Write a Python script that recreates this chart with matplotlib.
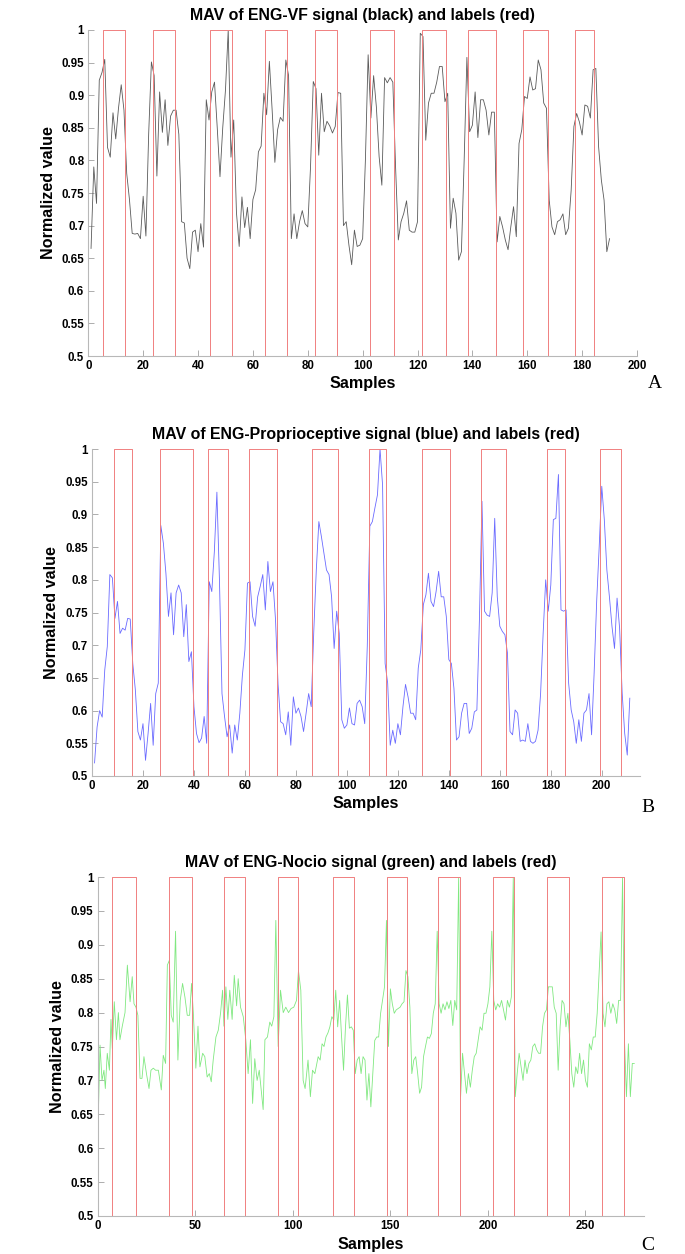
import numpy as np
import matplotlib
matplotlib.use('Agg')
import matplotlib.pyplot as plt
from matplotlib.ticker import FuncFormatter

# ---------------- DATA ----------------
# Panel A: MAV of ENG-VF signal (samples 1..190)
vf_signal = [
    0.665, 0.79, 0.734, 0.923, 0.935, 0.955, 0.82, 0.805, 0.873, 0.833,
    0.88, 0.916, 0.877, 0.78, 0.74, 0.688, 0.687, 0.688, 0.68, 0.745,
    0.684, 0.84, 0.951, 0.93, 0.776, 0.905, 0.843, 0.893, 0.823, 0.868,
    0.877, 0.877, 0.84, 0.706, 0.704, 0.65, 0.634, 0.69, 0.693, 0.66,
    0.703, 0.667, 0.893, 0.862, 0.905, 0.92, 0.85, 0.775, 0.85, 0.908,
    1.0, 0.805, 0.862, 0.72, 0.668, 0.744, 0.697, 0.728, 0.68, 0.74,
    0.755, 0.813, 0.822, 0.903, 0.87, 0.952, 0.878, 0.797, 0.847, 0.866,
    0.86, 0.954, 0.93, 0.68, 0.718, 0.68, 0.706, 0.723, 0.703, 0.698,
    0.79, 0.921, 0.91, 0.808, 0.903, 0.844, 0.86, 0.853, 0.842, 0.852,
    0.904, 0.903, 0.70, 0.706, 0.67, 0.64, 0.693, 0.668, 0.67, 0.68,
    0.80, 0.962, 0.865, 0.93, 0.882, 0.806, 0.762, 0.927, 0.919, 0.927,
    0.92, 0.79, 0.678, 0.706, 0.719, 0.738, 0.693, 0.69, 0.69, 0.706,
    0.995, 0.99, 0.831, 0.888, 0.903, 0.903, 0.92, 0.944, 0.944, 0.89,
    0.903, 0.696, 0.742, 0.719, 0.647, 0.66, 0.80, 0.958, 0.844, 0.854,
    0.905, 0.835, 0.893, 0.893, 0.877, 0.839, 0.874, 0.874, 0.675, 0.714,
    0.698, 0.678, 0.663, 0.698, 0.729, 0.683, 0.826, 0.847, 0.898, 0.895,
    0.928, 0.908, 0.91, 0.954, 0.939, 0.888, 0.88, 0.739, 0.698, 0.686,
    0.706, 0.709, 0.718, 0.686, 0.696, 0.754, 0.852, 0.872, 0.859, 0.839,
    0.885, 0.883, 0.865, 0.939, 0.941, 0.821, 0.77, 0.739, 0.66, 0.68,
]
vf_label_start = [6, 24, 45, 65, 83, 103, 122, 139, 159, 178]
vf_label_end = [13, 31, 52, 72, 90, 111, 130, 148, 167, 184]

# Panel B: MAV of ENG-Proprioceptive signal (samples 1..211)
prop_signal = [
    0.52, 0.575, 0.60, 0.59, 0.662, 0.698, 0.808, 0.803, 0.741, 0.767,
    0.718, 0.726, 0.723, 0.741, 0.74, 0.672, 0.632, 0.568, 0.555, 0.58,
    0.524, 0.565, 0.611, 0.547, 0.626, 0.642, 0.883, 0.856, 0.81, 0.744,
    0.78, 0.716, 0.78, 0.792, 0.78, 0.713, 0.762, 0.675, 0.69, 0.606,
    0.565, 0.551, 0.558, 0.591, 0.55, 0.797, 0.782, 0.843, 0.934, 0.80,
    0.626, 0.591, 0.56, 0.578, 0.535, 0.578, 0.555, 0.596, 0.654, 0.693,
    0.795, 0.797, 0.744, 0.729, 0.774, 0.79, 0.808, 0.754, 0.828, 0.782,
    0.797, 0.739, 0.64, 0.583, 0.58, 0.563, 0.598, 0.547, 0.621, 0.596,
    0.604, 0.591, 0.568, 0.596, 0.626, 0.606, 0.72, 0.815, 0.889, 0.866,
    0.841, 0.815, 0.808, 0.774, 0.695, 0.752, 0.718, 0.586, 0.573, 0.578,
    0.604, 0.58, 0.578, 0.611, 0.616, 0.606, 0.58, 0.698, 0.882, 0.889,
    0.91, 0.93, 1.0, 0.945, 0.672, 0.642, 0.547, 0.57, 0.55, 0.58,
    0.563, 0.606, 0.64, 0.621, 0.596, 0.596, 0.586, 0.665, 0.693, 0.762,
    0.777, 0.81, 0.767, 0.759, 0.782, 0.813, 0.774, 0.774, 0.744, 0.678,
    0.672, 0.634, 0.555, 0.56, 0.596, 0.611, 0.611, 0.565, 0.573, 0.598,
    0.601, 0.739, 0.92, 0.752, 0.746, 0.744, 0.78, 0.894, 0.774, 0.729,
    0.721, 0.716, 0.688, 0.568, 0.563, 0.601, 0.596, 0.553, 0.555, 0.553,
    0.58, 0.553, 0.55, 0.553, 0.57, 0.626, 0.718, 0.80, 0.752, 0.792,
    0.892, 0.894, 0.961, 0.754, 0.752, 0.754, 0.642, 0.601, 0.583, 0.55,
    0.586, 0.553, 0.596, 0.601, 0.626, 0.563, 0.657, 0.767, 0.851, 0.943,
    0.892, 0.815, 0.774, 0.729, 0.695, 0.772, 0.726, 0.627, 0.565, 0.532,
    0.619,
]
prop_label_start = [9, 27, 46, 62, 87, 109, 130, 153, 179, 200]
prop_label_end = [15, 39, 53, 72, 96, 115, 140, 162, 185, 207]

# Panel C: MAV of ENG-Nocio signal (sample positions and values)
noc_x = [
    0.3, 1.2, 2.2, 3.2, 3.9, 4.9, 6.0, 6.8, 7.5, 8.5, 9.6, 10.6, 11.4, 12.6,
    14.0, 15.2, 16.6, 17.7, 18.6, 19.6, 20.6, 21.7, 22.7, 23.7, 25.1, 26.3,
    27.3, 28.5, 29.7, 31.1, 32.6, 33.6, 34.8, 35.7, 36.7, 37.7, 38.7, 39.9,
    41.1, 42.3, 43.5, 44.7, 45.9, 47.1, 48.1, 49.0, 50.3, 51.4, 52.4, 53.8,
    54.9, 56.1, 57.2, 58.2, 59.2, 60.6, 61.8, 63.0, 64.0, 64.7, 65.7, 66.7,
    67.7, 68.9, 70.0, 71.2, 72.0, 73.2, 74.6, 75.9, 77.1, 78.3, 79.4, 80.5,
    81.7, 82.8, 84.0, 84.8, 85.7, 87.0, 88.2, 89.2, 90.3, 91.3, 92.5, 93.7,
    95.1, 96.4, 97.8, 99.1, 100.5, 101.9, 102.9, 104.1, 105.3, 106.3, 107.8,
    109.0, 110.1, 111.3, 113.0,
] + list(range(114, 276))
noc_signal = [
    0.646, 0.752, 0.70, 0.715, 0.688, 0.74, 0.715, 0.79, 0.747, 0.816, 0.76,
    0.80, 0.76, 0.78, 0.80, 0.87, 0.816, 0.853, 0.813, 0.808, 0.796, 0.703,
    0.703, 0.735, 0.708, 0.688, 0.715, 0.718, 0.715, 0.715, 0.686, 0.737,
    0.725, 0.87, 0.877, 0.796, 0.786, 0.92, 0.73, 0.818, 0.843, 0.823, 0.796,
    0.796, 0.843, 0.80, 0.718, 0.78, 0.72, 0.74, 0.735, 0.705, 0.71, 0.698,
    0.73, 0.764, 0.774, 0.80, 0.833, 0.78, 0.838, 0.79, 0.833, 0.79, 0.855,
    0.81, 0.85, 0.808, 0.794, 0.76, 0.71, 0.76, 0.666, 0.732, 0.70, 0.715,
    0.68, 0.657, 0.76, 0.764, 0.786, 0.78, 0.794, 0.936, 0.75, 0.833, 0.80,
    0.808, 0.80, 0.806, 0.808, 0.818, 0.862, 0.833, 0.70, 0.688, 0.73, 0.676,
    0.715, 0.71, 0.735,
    # samples 114..275
    0.73, 0.754, 0.75, 0.764, 0.77, 0.779, 0.794, 0.789, 0.833, 0.779,
    0.818, 0.764, 0.715, 0.779, 0.826, 0.777, 0.779, 0.774, 0.71, 0.73,
    0.735, 0.71, 0.735, 0.73, 0.671, 0.71, 0.661, 0.71, 0.759, 0.764,
    0.764, 0.799, 0.818, 0.838, 0.936, 0.75, 0.835, 0.813, 0.799, 0.804,
    0.806, 0.808, 0.813, 0.816, 0.862, 0.853, 0.808, 0.71, 0.73, 0.735,
    0.71, 0.681, 0.69, 0.735, 0.75, 0.764, 0.762, 0.769, 0.799, 0.813,
    0.92, 0.813, 0.799, 0.813, 0.804, 0.816, 0.806, 0.818, 0.781, 0.818,
    0.804, 1.0, 0.676, 0.74, 0.71, 0.681, 0.71, 0.69, 0.715, 0.735,
    0.74, 0.759, 0.779, 0.774, 0.799, 0.799, 0.813, 0.838, 0.92, 0.818,
    0.804, 0.813, 0.808, 0.818, 0.804, 0.789, 0.818, 0.808, 0.823, 1.0,
    0.676, 0.71, 0.74, 0.72, 0.70, 0.73, 0.71, 0.725, 0.73, 0.75,
    0.754, 0.745, 0.74, 0.74, 0.779, 0.799, 0.804, 0.838, 0.838, 0.838,
    0.808, 0.799, 0.715, 0.779, 0.818, 0.813, 0.779, 0.799, 0.759, 0.71,
    0.69, 0.72, 0.71, 0.74, 0.71, 0.73, 0.70, 0.69, 0.754, 0.745,
    0.764, 0.764, 0.799, 0.858, 0.919, 0.799, 0.779, 0.813, 0.816, 0.799,
    0.813, 0.804, 0.784, 0.818, 0.818, 1.0, 0.759, 0.676, 0.754, 0.676,
    0.725, 0.725,
]
noc_label_start = [8, 37, 65, 93, 121, 149, 175, 203, 231, 259]
noc_label_end = [19, 48, 75, 102, 131, 158, 185, 213, 241, 269]

titles = ['MAV of ENG-VF signal (black) and labels (red)',
          'MAV of ENG-Proprioceptive signal (blue) and labels (red)',
          'MAV of ENG-Nocio signal (green) and labels (red)']
panel_letters = ['A', 'B', 'C']
y_ticks = [0.5, 0.55, 0.6, 0.65, 0.7, 0.75, 0.8, 0.85, 0.9, 0.95, 1.0]


def build_labels(n, starts, ends, low=0.5, high=1.0):
    lab = np.full(n, low)
    for s, e in zip(starts, ends):
        lab[s - 1:e] = high
    return lab


# ---------------- FIGURE ----------------
W, H = 685, 1254
fig = plt.figure(figsize=(W / 100, H / 100), dpi=100)
fig.patch.set_facecolor('white')

sans = 'Liberation Sans'
serif = 'Liberation Serif'

panels = [
    dict(x=np.arange(1, len(vf_signal) + 1), y=vf_signal, color='#5a5a5a',
         ls=vf_label_start, le=vf_label_end, xlim=(0, 200), xt=np.arange(0, 201, 20),
         box=(88.3, 30, 637, 356), letter_xy=(655, 383)),
    dict(x=np.arange(1, len(prop_signal) + 1), y=prop_signal, color='#6a6aff',
         ls=prop_label_start, le=prop_label_end, xlim=(0, 215), xt=np.arange(0, 201, 20),
         box=(92, 449, 640, 776), letter_xy=(648, 808)),
    dict(x=np.array(noc_x, dtype=float), y=noc_signal, color='#80e880',
         ls=noc_label_start, le=noc_label_end, xlim=(0, 280), xt=np.arange(0, 251, 50),
         box=(97.7, 877, 644, 1216), letter_xy=(648, 1245)),
]

for i, p in enumerate(panels):
    l, t, r, b = p['box']
    ax = fig.add_axes([l / W, 1 - b / H, (r - l) / W, (b - t) / H])
    ax.plot(p['x'], p['y'], color=p['color'], lw=0.6)
    n_lab = int(round(max(p['x'])))
    lab = build_labels(n_lab, p['ls'], p['le'])
    ax.plot(np.arange(1, n_lab + 1), lab, color='#f08080', lw=0.7,
            drawstyle='steps-mid', snap=True)
    ax.set_xlim(*p['xlim'])
    ax.set_ylim(0.5, 1.0)
    ax.set_xticks(p['xt'])
    ax.set_yticks(y_ticks)
    ax.yaxis.set_major_formatter(FuncFormatter(lambda v, pos: '%g' % round(v, 2)))
    for s in ['top', 'right']:
        ax.spines[s].set_visible(False)
    for s in ['left', 'bottom']:
        ax.spines[s].set_color('#b8b8b8')
        ax.spines[s].set_linewidth(0.8)
    ax.tick_params(direction='in', length=4, width=0.6, color='#a0a0a0',
                   labelsize=8.3, pad=3)
    for lbl in ax.get_xticklabels() + ax.get_yticklabels():
        lbl.set_fontfamily(sans)
        lbl.set_fontweight('bold')
    ax.set_title(titles[i], fontsize=11.4, fontweight='bold', family=sans, pad=7)
    ax.set_xlabel('Samples', fontsize=11.6, fontweight='bold', family=sans)
    ax.set_ylabel('Normalized value', fontsize=11.6, fontweight='bold', family=sans)
    ax.xaxis.set_label_coords(0.5, -0.085)
    ax.yaxis.set_label_coords(-0.073, 0.5)
    ax.xaxis.label.set_va('center')
    ax.yaxis.label.set_va('center')
    lx, ly = p['letter_xy']
    fig.text(lx / W, 1 - ly / H, panel_letters[i], family=serif, fontsize=14,
             ha='center', va='center')

fig.savefig('out.png', dpi=100, facecolor='white')
